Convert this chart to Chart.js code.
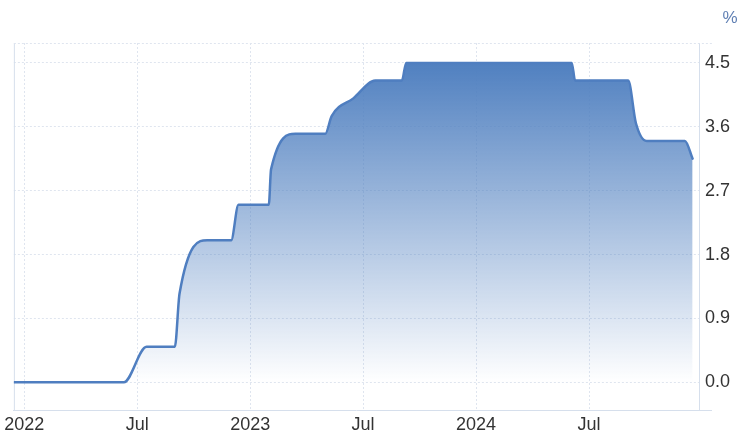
<!DOCTYPE html>
<html>
<head>
<meta charset="utf-8">
<script src="https://cdn.jsdelivr.net/npm/chart.js@4/dist/chart.umd.min.js"></script>
<style>
  html, body { margin: 0; padding: 0; background: #fff; }
  canvas { display: block; }
</style>
</head>
<body>
<canvas id="rateChart" width="749" height="447"></canvas>
<script>
// x = months since Jan 2022
const monthPos = [-0.55, 5.29, 6.5, 8.0, 8.25, 9.72, 10.99, 11.38, 12.99, 13.11, 14.4, 15.99,
                  16.33, 17.48, 18.65, 20.06, 20.29, 29.08, 29.26, 32.08, 32.49, 33.06, 35.09, 35.5];
const rateValues = [0, 0, 0.5, 0.5, 1.25, 2.0, 2.0, 2.5, 2.5, 3.0, 3.5, 3.5,
                    3.75, 4.0, 4.25, 4.25, 4.5, 4.5, 4.25, 4.25, 3.65, 3.4, 3.4, 3.15];
const xTickPos = [0, 6, 12, 18, 24, 30];
const xTickLabels = ['2022', 'Jul', '2023', 'Jul', '2024', 'Jul'];
const yTicks = [0, 0.9, 1.8, 2.7, 3.6, 4.5];
const unitLabel = '%';

const lineColor = '#4f7ec0';
const gridColor = '#dfe5ef';
const axisColor = '#d6dfec';
const fontFamily = 'Helvetica, Arial, "Liberation Sans", sans-serif';

// frame lines and the unit label
const framePlugin = {
    id: 'frame',
    beforeDatasetsDraw(chart) {
        const { ctx, chartArea: a } = chart;
        ctx.save();
        ctx.lineWidth = 1;
        ctx.strokeStyle = axisColor;
        ctx.beginPath();
        ctx.moveTo(a.left + 0.5, a.top);
        ctx.lineTo(a.left + 0.5, a.bottom);
        ctx.moveTo(a.right, a.bottom + 0.5);
        ctx.lineTo(a.right + 13, a.bottom + 0.5);
        ctx.stroke();
        ctx.strokeStyle = gridColor;
        ctx.setLineDash([2, 2]);
        ctx.beginPath();
        ctx.moveTo(a.left, a.top + 0.5);
        ctx.lineTo(a.right + 13, a.top + 0.5);
        ctx.stroke();
        ctx.restore();
    },
    afterDraw(chart) {
        const { ctx } = chart;
        ctx.save();
        ctx.fillStyle = '#5f7fb3';
        ctx.font = '17px ' + fontFamily;
        ctx.textAlign = 'center';
        ctx.textBaseline = 'middle';
        ctx.fillText(unitLabel, 730, 18);
        ctx.restore();
    }
};

const ctx = document.getElementById('rateChart').getContext('2d');

new Chart(ctx, {
    type: 'line',
    data: {
        datasets: [{
            data: monthPos.map((m, i) => ({ x: m, y: rateValues[i] })),
            borderColor: lineColor,
            borderWidth: 2.5,
            borderCapStyle: 'round',
            borderJoinStyle: 'round',
            pointRadius: 0,
            cubicInterpolationMode: 'monotone',
            fill: 'origin',
            backgroundColor: (c) => {
                const { chart } = c;
                const area = chart.chartArea;
                if (!area) return 'rgba(80,128,192,0.5)';
                const y = chart.scales.y;
                const g = chart.ctx.createLinearGradient(0, y.getPixelForValue(4.5), 0, y.getPixelForValue(0));
                g.addColorStop(0, 'rgba(80,128,192,1)');
                g.addColorStop(1, 'rgba(80,128,192,0)');
                return g;
            }
        }]
    },
    options: {
        responsive: false,
        animation: false,
        devicePixelRatio: 1,
        layout: { padding: { left: 13, top: 43, right: 0, bottom: 0 } },
        plugins: {
            legend: { display: false },
            tooltip: { enabled: false }
        },
        scales: {
            x: {
                type: 'linear',
                min: -0.55,
                max: 35.84,
                afterBuildTicks: s => { s.ticks = xTickPos.map(v => ({ value: v })); },
                afterFit: s => { s.height = 37; },
                ticks: {
                    autoSkip: false,
                    maxRotation: 0,
                    padding: 4,
                    color: '#333',
                    font: { family: fontFamily, size: 18 },
                    callback: (v) => xTickLabels[xTickPos.indexOf(v)]
                },
                grid: { color: gridColor, drawTicks: false },
                border: { color: axisColor, dash: [2, 2] }
            },
            y: {
                type: 'linear',
                position: 'right',
                min: -0.39,
                max: 4.78,
                afterBuildTicks: s => { s.ticks = yTicks.map(v => ({ value: v })); },
                afterFit: s => { s.width = 50; },
                ticks: {
                    padding: 6,
                    color: '#333',
                    font: { family: fontFamily, size: 18 },
                    callback: (v) => Number(v).toFixed(1)
                },
                grid: { color: gridColor, drawTicks: false },
                border: { color: axisColor, dash: [2, 2] }
            }
        }
    },
    plugins: [framePlugin]
});
</script>
</body>
</html>
